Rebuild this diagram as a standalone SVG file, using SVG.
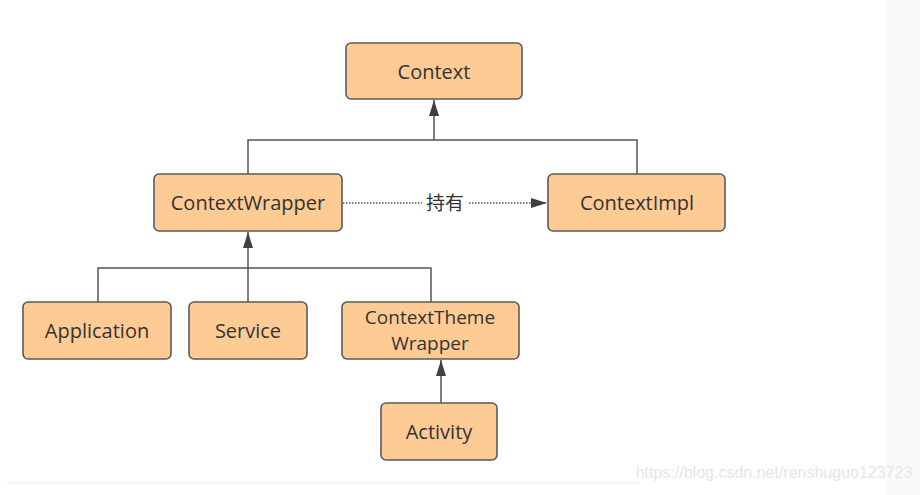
<svg xmlns="http://www.w3.org/2000/svg" width="920" height="495" viewBox="0 0 920 495">
<defs>
<style>
.box{fill:#ffcb94;stroke:#5a5a5a;stroke-width:1.6}
.lbl{font-family:"Open Sans","Noto Sans","Noto Sans CJK SC",sans-serif;font-size:20px;fill:#333;text-anchor:middle;dominant-baseline:central}
.ln{fill:none;stroke:#555;stroke-width:1.5}
.dot{fill:none;stroke:#555;stroke-width:1.5;stroke-dasharray:1.5 1.5}
</style>
<marker id="arrL" viewBox="0 0 16 10" refX="16" refY="5" markerWidth="16" markerHeight="10" markerUnits="userSpaceOnUse" orient="auto">
<path d="M0,0 L16,5 L0,10 Z" fill="#404040"/>
</marker>
</defs>
<rect x="0" y="0" width="920" height="495" fill="#ffffff"/>
<rect x="886" y="0" width="34" height="495" fill="#fafafa"/>
<line x1="6" y1="483" x2="640" y2="483" stroke="#ededed" stroke-width="1"/>
<text x="774" y="478" font-family="Liberation Sans,Arial,sans-serif" font-size="16" fill="#e6e6e6" text-anchor="middle">https://blog.csdn.net/renshuguo123723</text>
<g id="connectors">
<path class="ln" d="M248,174 V140 H637 V174"/>
<line class="ln" x1="434" y1="140" x2="434" y2="100" marker-end="url(#arrL)"/>
<path class="ln" d="M98,302 V268 H431 V302"/>
<line class="ln" x1="248" y1="302" x2="248" y2="232" marker-end="url(#arrL)"/>
<line class="ln" x1="441" y1="403" x2="441" y2="360" marker-end="url(#arrL)"/>
<line class="dot" x1="343" y1="203" x2="422" y2="203"/>
<line class="dot" x1="469" y1="203" x2="547" y2="203" marker-end="url(#arrL)"/>
<text class="lbl" x="445" y="203" style="font-size:19px">持有</text>
</g>
<g id="Context"><rect class="box" x="346" y="43" width="176" height="56" rx="5"/><text class="lbl" x="434" y="71">Context</text></g>
<g id="ContextWrapper"><rect class="box" x="154" y="174" width="188" height="57" rx="5"/><text class="lbl" x="248" y="202">ContextWrapper</text></g>
<g id="ContextImpl"><rect class="box" x="548" y="174" width="177" height="57" rx="5"/><text class="lbl" x="637" y="202">ContextImpl</text></g>
<g id="Application"><rect class="box" x="23" y="302" width="148" height="57" rx="5"/><text class="lbl" x="97" y="330">Application</text></g>
<g id="Service"><rect class="box" x="189" y="302" width="118" height="57" rx="5"/><text class="lbl" x="248" y="330">Service</text></g>
<g id="ContextThemeWrapper"><rect class="box" x="342" y="302" width="177" height="57" rx="5"/><text class="lbl" x="430" y="317" style="font-size:19px">ContextTheme</text><text class="lbl" x="430" y="343" style="font-size:19px">Wrapper</text></g>
<g id="Activity"><rect class="box" x="381" y="403" width="116" height="57" rx="5"/><text class="lbl" x="439" y="431">Activity</text></g>
</svg>
